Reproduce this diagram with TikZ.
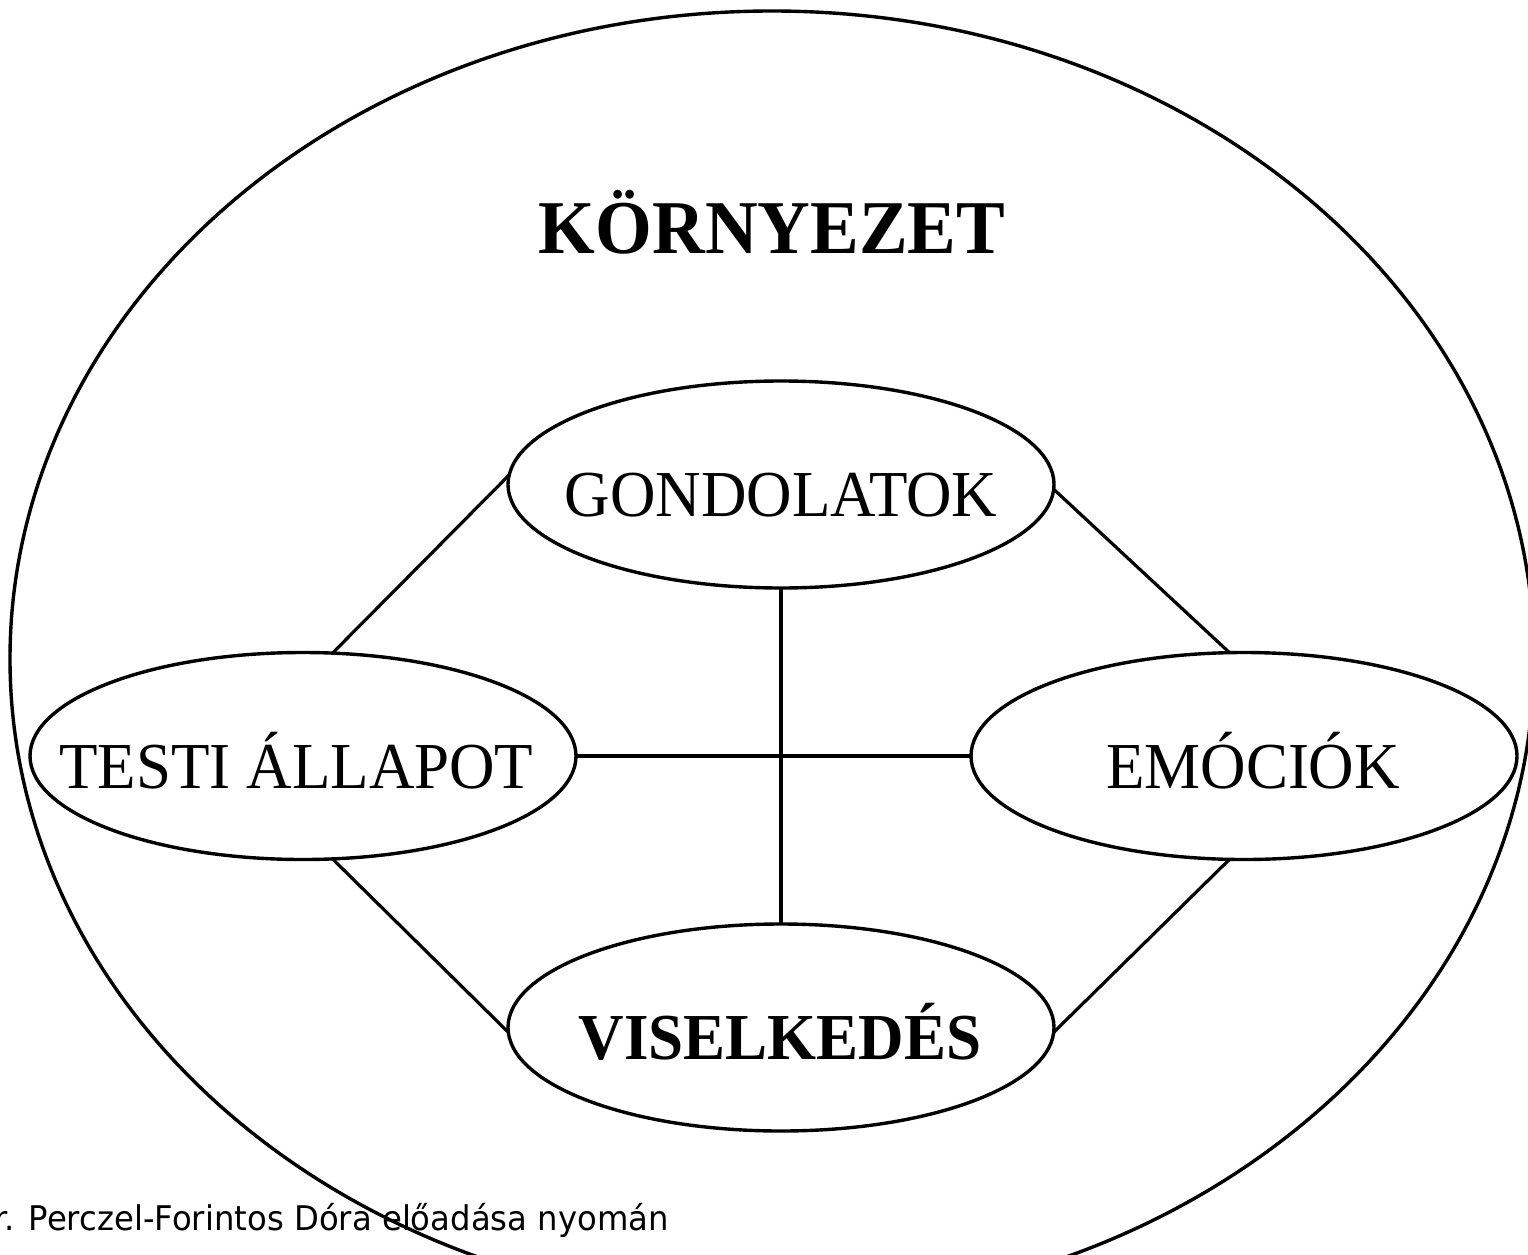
\documentclass[tikz,border=0pt]{standalone}
\usepackage{fontspec}
\setmainfont[FakeStretch=0.96]{Liberation Serif}
\newfontfamily\footfont[FakeStretch=0.95]{DejaVu Sans}
\usetikzlibrary{shapes.geometric}
\tikzset{
  bubble/.style={draw, ellipse, line width=3.4pt, inner sep=0pt, outer sep=0pt,
    minimum width=546pt, minimum height=207pt},
  link/.style={line width=3.2pt},
  lbl/.style={anchor=base, inner sep=0pt, font=\fontsize{65.6}{70}\selectfont},
  lblb/.style={anchor=base, inner sep=0pt, font=\fontsize{65.6}{70}\selectfont\bfseries},
}
\begin{document}
\begin{tikzpicture}[x=1pt, y=-1pt]
\useasboundingbox (0,0) rectangle (1528,1255);
\clip (0,0) rectangle (1528,1255);
% environment
\node[draw, ellipse, line width=3.4pt, inner sep=0pt, outer sep=0pt,
  minimum width=1524pt, minimum height=1296pt] (env) at (772,659) {};
\node[anchor=base, inner sep=0pt, font=\fontsize{76}{80}\selectfont\bfseries] (envl) at (772,253) {KÖRNYEZET};
% inner ellipses
\node[bubble] (g) at (781,484.5) {};
\node[bubble] (t) at (303,756) {};
\node[bubble] (e) at (1244,756) {};
\node[bubble] (v) at (781,1027.5) {};
\node[lbl] (gl) at (781,516) {GONDOLATOK};
\node[lbl] (tl) at (296.5,788) {TESTI ÁLLAPOT};
\node[lbl] (el) at (1253,788) {EMÓCIÓK};
\node[lblb] (vl) at (780,1059) {VISELKEDÉS};
% connectors
\draw[link] (g.178) -- (t.74);
\draw[link] (g.-1) -- (e.98);
\draw[link] (t.-74) -- (v.181);
\draw[link] (e.-98) -- (v.-1);
\draw[link] (t.east) -- (e.west);
\draw[link] (g.south) -- (v.north);
% footer
\node[anchor=base east, inner sep=0pt, font=\footfont\fontsize{34}{38}\selectfont] (src) at (669,1230) {Dr. Perczel-Forintos Dóra előadása nyomán};
\end{tikzpicture}
\end{document}
